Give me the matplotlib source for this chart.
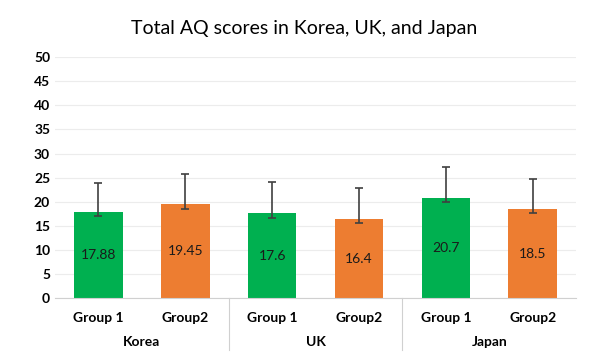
import matplotlib
matplotlib.use('Agg')
import matplotlib.pyplot as plt
import matplotlib.transforms as mtrans
import numpy as np

plt.rcParams['font.family'] = ['Lato', 'DejaVu Sans']

countries = ['Korea', 'UK', 'Japan']
groups = ['Group 1', 'Group2']
scores = [17.88, 19.45, 17.6, 16.4, 20.7, 18.5]
err_up = [6.0, 6.3, 6.5, 6.4, 6.5, 6.3]
err_down = [0.8, 0.95, 0.9, 0.9, 0.8, 0.8]
bar_colors = ['#00B050', '#ED7D31'] * 3

fig = plt.figure(figsize=(5.91, 3.64), dpi=100)
ax = fig.add_axes([0.093, 0.181, 0.882, 0.662])

x = np.arange(len(scores))
ax.bar(x, scores, width=0.56, color=bar_colors, zorder=2)
ax.errorbar(x, scores, yerr=[err_down, err_up], fmt='none', ecolor='#404040',
            elinewidth=1.2, capsize=3, capthick=1.2, zorder=3)

# value labels in the middle of each bar
for xi, v in zip(x, scores):
    ax.text(xi, v / 2, f'{v:g}', ha='center', va='center', fontsize=10, color='#1a1a1a', zorder=4)

ax.set_xlim(-0.5, len(scores) - 0.5)
ax.set_ylim(0, 50)
ax.set_yticks(np.arange(0, 51, 5))
ax.yaxis.grid(True, color='#ececec', linewidth=0.8, zorder=0)
ax.set_axisbelow(True)
for s in ['top', 'right', 'left']:
    ax.spines[s].set_visible(False)
ax.spines['bottom'].set_color('#d0d0d0')
ax.tick_params(axis='both', length=0, labelsize=10)
ax.tick_params(axis='x', pad=10)
ax.set_xticks(x)
ax.set_xticklabels(groups * 3, fontweight='bold')
for lab in ax.get_yticklabels():
    lab.set_fontweight('bold')

# second level of the category axis
trans = mtrans.blended_transform_factory(ax.transData, ax.transAxes)
for i, c in enumerate(countries):
    ax.text(2 * i + 0.5, -0.183, c, transform=trans, ha='center', va='center',
            fontsize=10, fontweight='bold')
for b in [1.5, 3.5]:
    ax.plot([b, b], [0, -0.215], transform=trans, color='#d0d0d0', linewidth=0.8, clip_on=False)

fig.text(0.514, 0.923, 'Total AQ scores in Korea, UK, and Japan', ha='center', va='center', fontsize=14)

fig.savefig('out.png', dpi=100)
